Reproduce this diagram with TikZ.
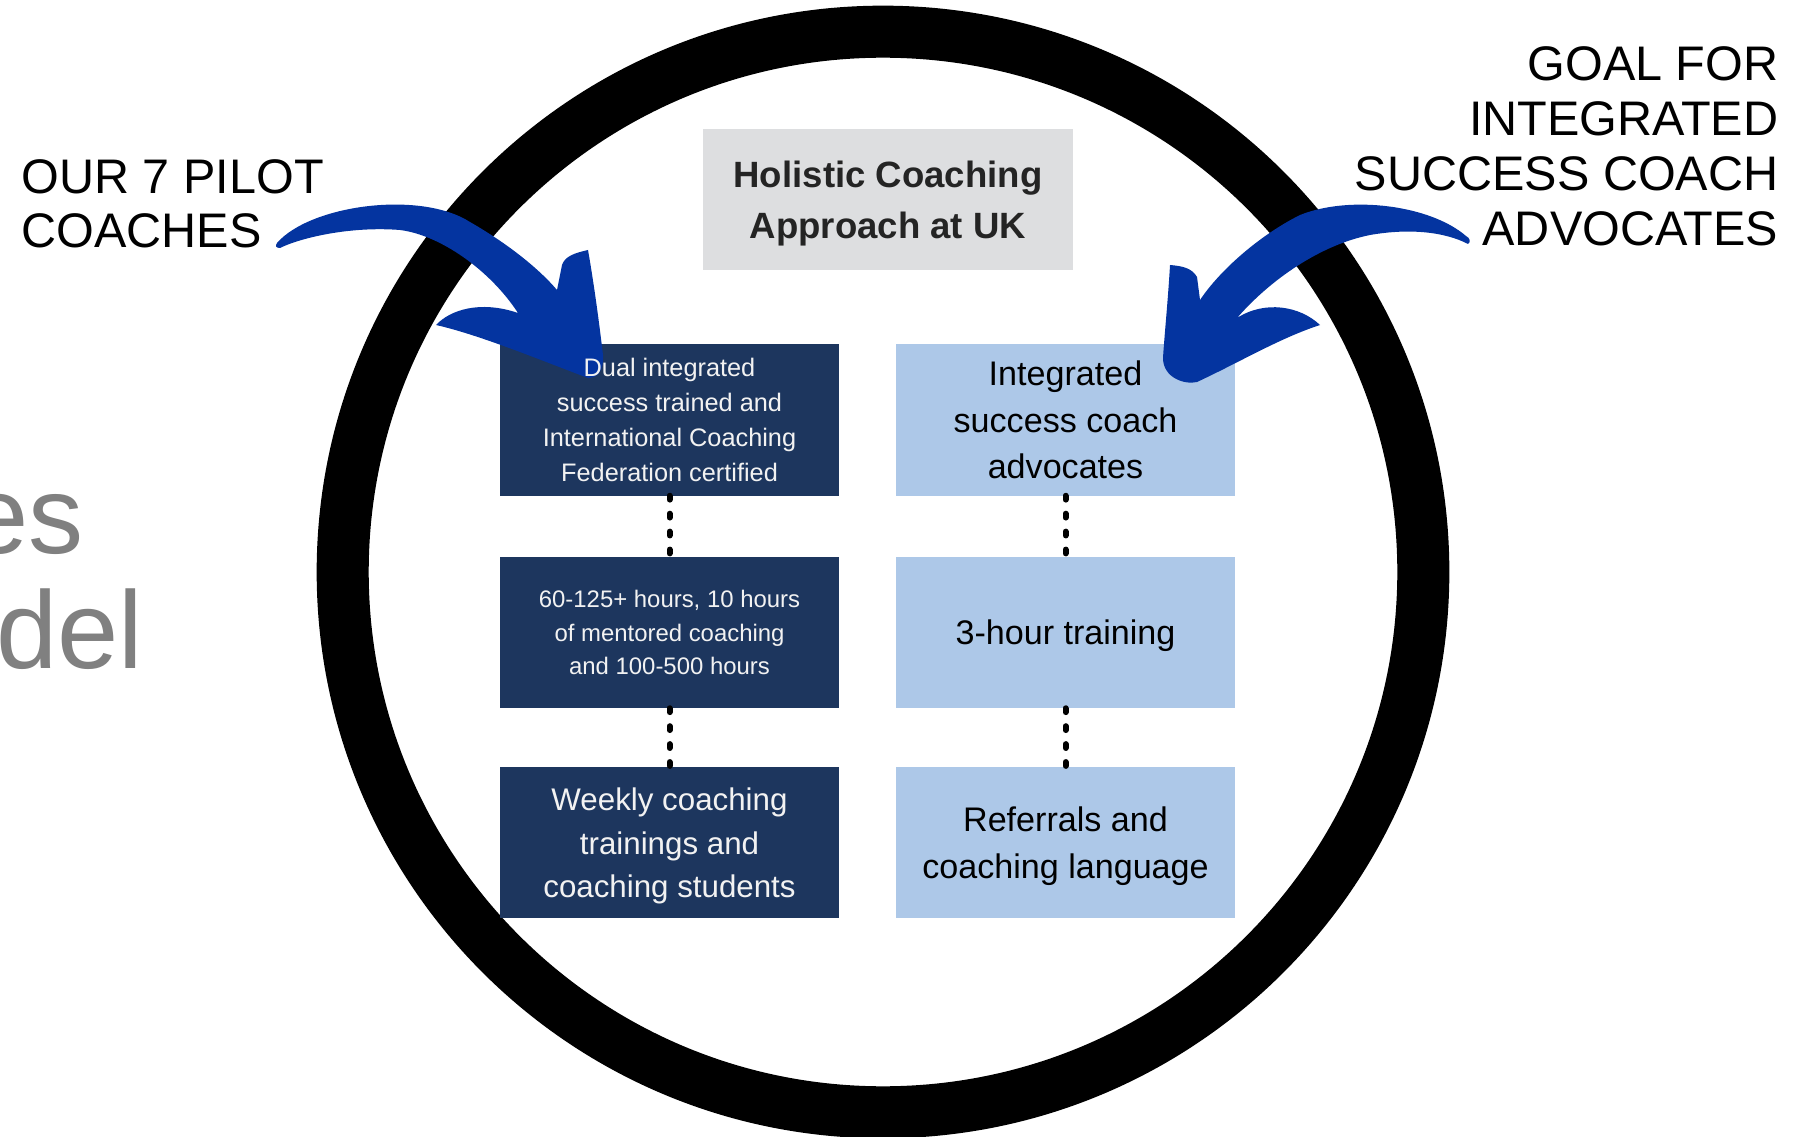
\documentclass[tikz,border=0pt]{standalone}
\usepackage{fontspec}
\setmainfont{Liberation Sans}
\usepackage{xcolor}
\usetikzlibrary{backgrounds}

\definecolor{navy}{RGB}{29,54,94}
\definecolor{paleblue}{RGB}{173,200,232}
\definecolor{titlegrey}{RGB}{221,222,224}
\definecolor{arrowblue}{RGB}{4,52,160}
\definecolor{fadedgrey}{RGB}{128,128,128}
\definecolor{boxwhite}{RGB}{242,242,242}
\definecolor{inkdark}{RGB}{36,36,36}

\begin{document}
\begin{tikzpicture}[x=0.01cm,y=-0.01cm,
    darkbox/.style={rectangle,text=boxwhite,minimum width=3.37cm,minimum height=1.5cm,inner sep=0pt,align=center},
    lightbox/.style={rectangle,text=black,minimum width=3.37cm,minimum height=1.5cm,inner sep=0pt,align=center,text depth=0pt,font=\fontsize{9.7}{13.2}\selectfont},
    dotline/.style={line width=1.7pt,line cap=round,dash pattern=on 1.1pt off 4pt},
    sidelabel/.style={inner sep=0pt,font=\fontsize{13.8}{15.2}\selectfont},
    bigtext/.style={inner sep=0pt,text=fadedgrey,font=\fontsize{31.3}{36}\selectfont},
    swoosh/.style={fill=arrowblue,draw=none}]
    \useasboundingbox (0,0) rectangle (1807,1137);

    % Cut-off heading text on the left
    \node[bigtext,anchor=base east] (es) at (84,553) {es};
    \node[bigtext,anchor=base east] (del) at (144,668) {del};

    % Title
    \node[rectangle,fill=titlegrey,text=inkdark,minimum width=3.7cm,minimum height=1.41cm,inner sep=0pt,align=center,text depth=0pt,font=\bfseries\fontsize{10.4}{14.5}\selectfont] (title) at (888,199.5) {Holistic Coaching\\Approach at UK};

    % Pilot coaches column
    \node[darkbox,font=\fontsize{7.2}{10}\selectfont] (dual) at (669.5,420) {Dual integrated\\success trained and\\International Coaching\\Federation certified};
    \node[darkbox,font=\fontsize{6.8}{9.4}\selectfont] (hours) at (669.5,632.5) {60-125+ hours, 10 hours\\of mentored coaching\\and 100-500 hours};
    \node[darkbox,font=\fontsize{8.9}{12.4}\selectfont] (weekly) at (669.5,846) {Weekly coaching\\trainings and\\coaching students};

    % Advocates column
    \node[lightbox] (advocates) at (1065.5,420) {Integrated\\success coach\\advocates};
    \node[lightbox] (training) at (1065.5,632.5) {3-hour training};
    \node[lightbox] (referrals) at (1065.5,842.5) {Referrals and\\coaching language};

    % Dotted links
    \draw[dotline] (dual.south) -- (hours.north);
    \draw[dotline] (hours.south) -- ([yshift=0.035cm]weekly.north);
    \draw[dotline] (advocates.south) -- (training.north);
    \draw[dotline] (training.south) -- (referrals.north);

    % Side labels
    \node[sidelabel,anchor=north west,align=left] (pilot) at (21,159) {OUR 7 PILOT\\COACHES};
    \node[sidelabel,anchor=north east,align=right,font=\fontsize{13.8}{15.6}\selectfont] (goal) at (1779,46) {GOAL FOR\\INTEGRATED\\SUCCESS COACH\\ADVOCATES};

    \begin{scope}[on background layer]
    \fill[white] (0,0) rectangle (1807,1137);
    % Big ring
    \draw[line width=14.8pt] (883,572) circle[radius=5.4cm];
    % Box fills
    \foreach \b in {dual,hours}
        \fill[navy] (\b.south west) rectangle (\b.north east);
    \fill[navy] ([yshift=0.035cm]weekly.south west) rectangle ([yshift=0.035cm]weekly.north east);
    \foreach \b in {advocates,training,referrals}
        \fill[paleblue] (\b.south west) rectangle (\b.north east);

    % Left swoosh arrow
    \fill[swoosh] (277,243) .. controls (310,205) and (420,190) .. (470,222)
        .. controls (510,245) and (540,270) .. (557,290)
        -- (562,265) .. controls (565,256) and (575,253) .. (588,250)
        .. controls (595,290) and (600,330) .. (603,355)
        .. controls (604,370) and (598,378) .. (588,378)
        .. controls (540,360) and (480,335) .. (436,325)
        .. controls (450,310) and (480,300) .. (518,313)
        .. controls (490,270) and (440,235) .. (400,230)
        .. controls (350,226) and (300,238) .. (280,248)
        .. controls (276,248) and (275,246) .. cycle;

    % Right swoosh arrow
    \fill[swoosh] (1466,236) .. controls (1430,205) and (1350,195) .. (1300,215)
        .. controls (1260,235) and (1220,270) .. (1200,300)
        -- (1197,277) .. controls (1192,268) and (1182,266) .. (1170,265)
        .. controls (1168,300) and (1164,340) .. (1163,358)
        .. controls (1163,378) and (1185,385) .. (1197,382)
        .. controls (1240,362) and (1280,338) .. (1320,325)
        .. controls (1300,306) and (1265,300) .. (1237,318)
        .. controls (1270,280) and (1320,245) .. (1370,235)
        .. controls (1410,228) and (1445,232) .. (1468,244)
        .. controls (1471,242) and (1470,238) .. cycle;
    \end{scope}
\end{tikzpicture}
\end{document}
